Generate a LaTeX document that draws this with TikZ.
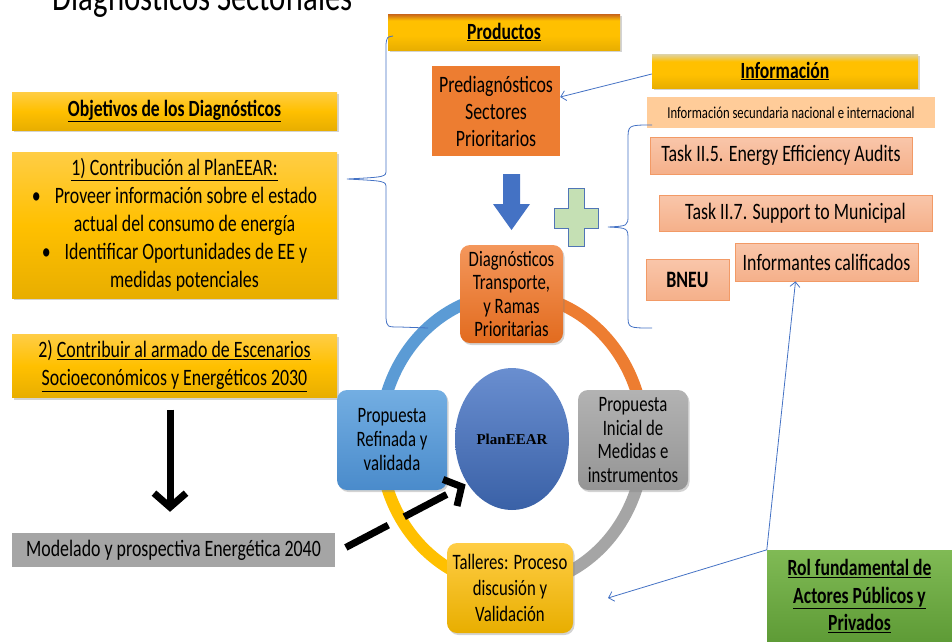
\documentclass[tikz,border=0pt]{standalone}
\usepackage{fontspec}
\setmainfont{Carlito}[FakeStretch=0.76]
\newfontfamily\planfont{Liberation Serif}
\usetikzlibrary{arrows.meta,shadows,shapes.geometric}
\definecolor{gold}{HTML}{FFC000}
\definecolor{goldtop}{HTML}{FFCD45}
\definecolor{golddark}{HTML}{E8AE00}
\definecolor{brownish}{HTML}{C8641A}
\definecolor{beige}{HTML}{DDD3A8}
\definecolor{orng}{HTML}{ED7D31}
\definecolor{orngtop}{HTML}{F4975C}
\definecolor{orngdark}{HTML}{E26B1E}
\definecolor{skyb}{HTML}{5B9BD5}
\definecolor{skybtop}{HTML}{73AEE2}
\definecolor{skybdark}{HTML}{4A8BCB}
\definecolor{royal}{HTML}{4472C4}
\definecolor{grey}{HTML}{A5A5A5}
\definecolor{peach}{HTML}{FFCC99}
\definecolor{salmon}{HTML}{F5B08A}
\definecolor{salmontop}{HTML}{F9C6AA}
\definecolor{salmonline}{HTML}{F29A66}
\definecolor{leaf}{HTML}{70AD47}
\definecolor{leaftop}{HTML}{80BA55}
\definecolor{leafdark}{HTML}{5E9B36}
\definecolor{mint}{HTML}{C5E0B4}
\pgfdeclareverticalshading{prodshade}{100bp}{color(0bp)=(golddark); color(25bp)=(golddark); color(45bp)=(gold); color(66bp)=(gold); color(75bp)=(brownish); color(100bp)=(brownish)}
\pgfdeclareverticalshading{infoshade}{100bp}{color(0bp)=(golddark); color(25bp)=(golddark); color(45bp)=(gold); color(64bp)=(gold); color(75bp)=(beige); color(100bp)=(beige)}
\begin{document}
\begin{tikzpicture}[x=1pt,y=-1pt,
  txt/.style={font=\fontsize{23.5}{28}\selectfont},
  shade drop/.style={drop shadow={shadow xshift=1.5pt,shadow yshift=-2pt,opacity=0.35}},
  goldbox/.style={top color=goldtop,bottom color=golddark,middle color=gold,inner sep=0pt,align=center,txt,shade drop},
  headbox/.style={inner sep=0pt,align=center,font=\fontsize{23.2}{24}\selectfont\bfseries,shade drop},
  taskbox/.style={top color=salmontop,bottom color=salmon,draw=salmonline,line width=0.8pt,inner sep=0pt,align=center,txt},
  cyclebox/.style={rounded corners=10pt,inner sep=0pt,align=center,font=\fontsize{22}{23.5}\selectfont,shade drop},
  ring/.style={line width=12pt},
  thinarrow/.style={draw=royal,line width=0.8pt,-{Straight Barb[length=5pt,width=10pt]}},
  brace/.style={draw=royal,line width=0.8pt}]
\useasboundingbox (0,0) rectangle (952,641);
% ring round the cycle
\coordinate (ringc) at (512,440);
\draw[ring,skyb] (ringc) ++(-132,0) arc[start angle=180,end angle=270,x radius=132,y radius=146];
\draw[ring,orng] (ringc) ++(0,-146) arc[start angle=270,end angle=360,x radius=132,y radius=146];
\draw[ring,grey] (ringc) ++(132,0) arc[start angle=0,end angle=90,x radius=132,y radius=146];
\draw[ring,gold] (ringc) ++(0,146) arc[start angle=90,end angle=180,x radius=132,y radius=146];
% title
\node[anchor=base,font=\fontsize{40.5}{44}\selectfont] (title) at (203,10) {Diagnósticos Sectoriales};
% left column
\node[headbox,top color=goldtop,bottom color=golddark,middle color=gold,minimum width=325pt,minimum height=38pt] (obj) at (174.5,111) {\underline{Objetivos de los Diagnósticos}};
\node[goldbox,minimum width=325pt,minimum height=146pt] (contrib) at (174.5,225) {\underline{1) Contribución al PlanEEAR:}\\
  \textbullet\hspace{14pt}Proveer información sobre el estado\\
  \hspace*{20pt}actual del consumo de energía\\
  \textbullet\hspace{14pt}Identificar Oportunidades de EE y\\
  \hspace*{20pt}medidas potenciales};
\node[goldbox,minimum width=325pt,minimum height=63pt] (esc) at (174.5,366) {2) \underline{Contribuir al armado de Escenarios}\\ \underline{Socioeconómicos y Energéticos 2030}};
\node[fill=grey,txt,inner sep=0pt,minimum width=323pt,minimum height=34pt] (model) at (173.5,550) {Modelado y prospectiva Energética 2040};
% products
\node[headbox,shading=prodshade,minimum width=232pt,minimum height=36pt] (prod) at (504,32) {\underline{Productos}};
\node[fill=orng,txt,align=center,inner sep=0pt,minimum width=128pt,minimum height=90pt,font=\fontsize{23.5}{27}\selectfont] (prediag) at (496,111) {Prediagnósticos\\ Sectores\\ Prioritarios};
% information
\node[headbox,shading=infoshade,minimum width=266pt,minimum height=34pt] (info) at (785,71) {\underline{Información}};
\node[fill=peach,inner sep=0pt,minimum width=288pt,minimum height=31pt,font=\fontsize{16.7}{18}\selectfont] (infsec) at (791,112.5) {Información secundaria nacional e internacional};
\node[taskbox,minimum width=262pt,minimum height=37pt] (taskfive) at (781,155.5) {Task II.5. Energy Efficiency Audits};
\node[taskbox,minimum width=273pt,minimum height=36pt] (taskseven) at (795.5,213) {Task II.7. Support to Municipal};
\node[taskbox,minimum width=83pt,minimum height=41pt,font=\fontsize{23.5}{24}\selectfont\bfseries] (bneu) at (687.5,279.5) {BNEU};
\node[taskbox,minimum width=183pt,minimum height=38pt] (informantes) at (826.5,262) {Informantes calificados};
\node[top color=leaftop,bottom color=leafdark,inner sep=0pt,align=center,minimum width=185pt,minimum height=92pt,font=\fontsize{23.2}{27.5}\selectfont\bfseries] (rol) at (859.5,596) {\underline{Rol fundamental de}\\ \underline{Actores Públicos y}\\ \underline{Privados}};
% cycle
\node[cyclebox,top color=orngtop,bottom color=orngdark,minimum width=103pt,minimum height=98pt] (diag) at (511.5,294) {Diagnósticos\\ Transporte,\\ y Ramas\\ Prioritarias};
\node[cyclebox,top color=skybtop,bottom color=skybdark,minimum width=110pt,minimum height=100pt,font=\fontsize{22}{24}\selectfont] (refin) at (392,440) {Propuesta\\ Refinada y\\ validada};
\node[cyclebox,top color=grey!85!white,bottom color=grey!90!black,minimum width=110pt,minimum height=100pt] (inicial) at (633,440) {Propuesta\\ Inicial de\\ Medidas e\\ instrumentos};
\node[cyclebox,top color=goldtop,bottom color=golddark,minimum width=126pt,minimum height=90pt,font=\fontsize{22}{26}\selectfont] (taller) at (510,588) {Talleres: Proceso\\ discusión y\\ Validación};
\node[ellipse,top color=royal!80!white,bottom color=royal!85!black,minimum width=114pt,minimum height=142pt,inner sep=0pt,font=\fontsize{15}{18}\planfont\bfseries] (plan) at (512,439) {PlanEEAR};
% block arrow and plus
\fill[royal] (503,174) -- (520,174) -- (520,204) -- (530,204) -- (511.5,230) -- (493,204) -- (503,204) -- cycle;
\filldraw[fill=mint,draw=royal!80!gray,line width=1pt] (568,188) -- (584,188) -- (584,208) -- (598,208) -- (598,228) -- (584,228) -- (584,246) -- (568,246) -- (568,228) -- (554,228) -- (554,208) -- (568,208) -- cycle;
% braces
\draw[brace] (393,36) .. controls (387,37) .. (386,44) -- (386,170) .. controls (386,177) .. (347,179) .. controls (386,181) .. (386,188) -- (386,318) .. controls (387,327) .. (400,327) -- (428,328);
\draw[brace] (652,125) .. controls (628,125) .. (628,140) -- (628,215) .. controls (628,226) .. (608,227) .. controls (628,228) .. (628,240) -- (628,315) .. controls (628,328) .. (652,328);
% black arrows
\draw[line width=7pt,shorten <=12pt,shorten >=21pt,-{Straight Barb[length=14pt,width=32pt]}] (esc.south -| 170,0) -- (model.north -| 170,0);
\draw[line width=7pt,dash pattern=on 48pt off 18pt,shorten <=12pt,shorten >=2pt,-{Straight Barb[length=13pt,width=30pt]}] ([yshift=-3pt]model.east) -- (plan.225);
% thin arrows
\coordinate (tallerend) at (608,598);
\draw[thinarrow] ([yshift=-3pt]info.west) -- ([yshift=14pt]prediag.east);
\draw[thinarrow] (rol.north west) -- ([xshift=-31pt]informantes.south);
\draw[thinarrow] (rol.north west) -- (tallerend);
\end{tikzpicture}
\end{document}
